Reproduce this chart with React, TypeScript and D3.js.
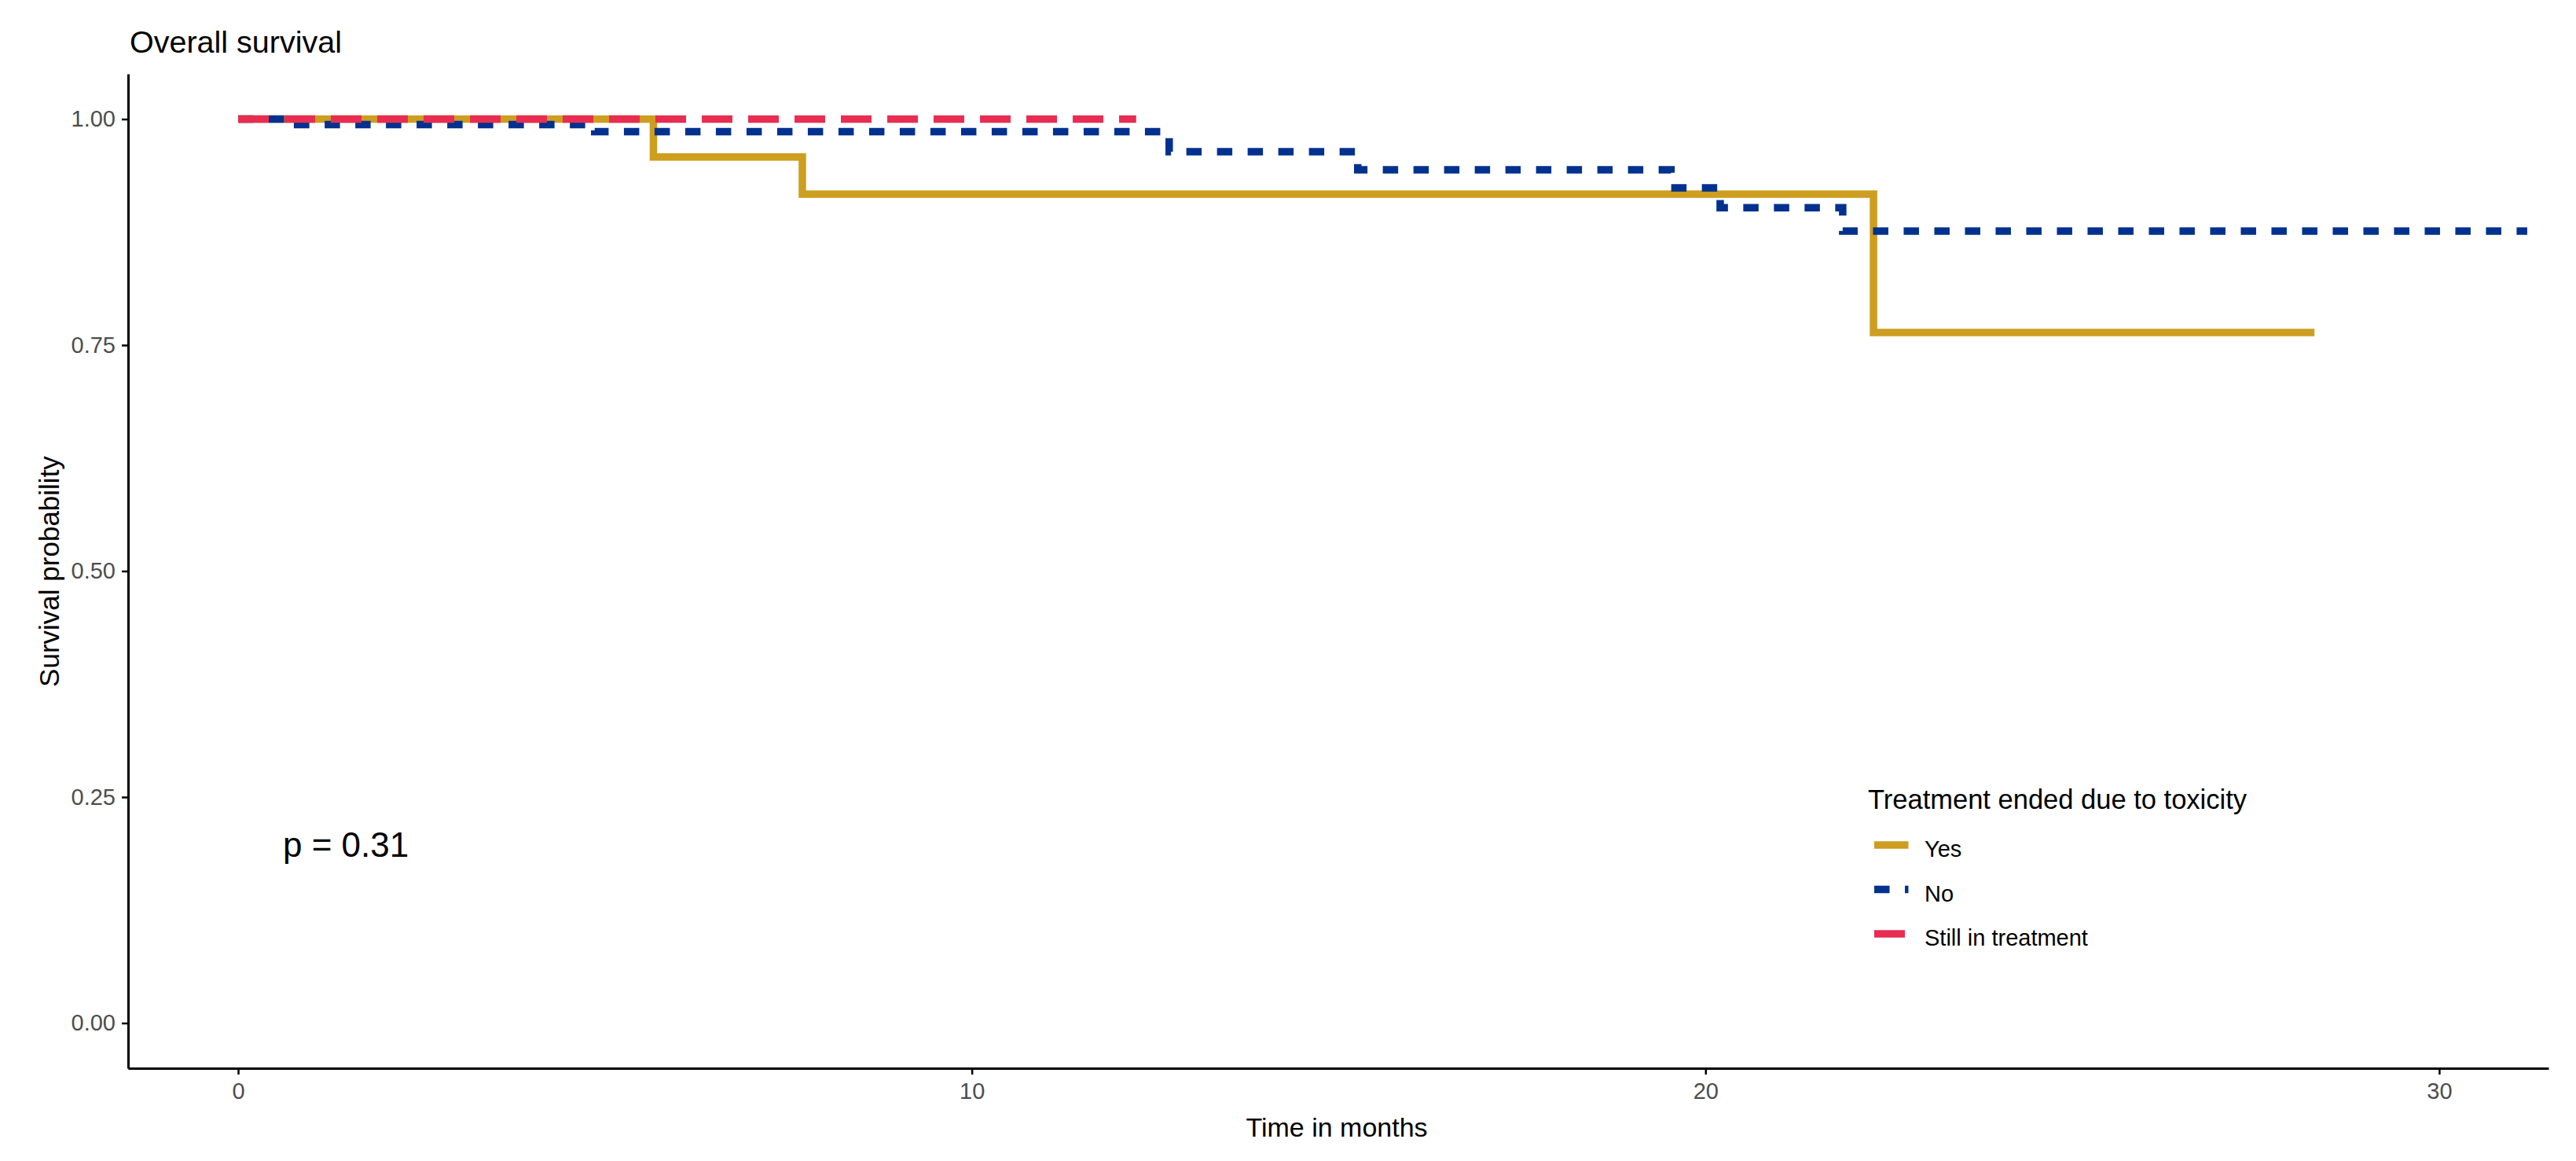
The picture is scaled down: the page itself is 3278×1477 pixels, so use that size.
import React, { useRef, useEffect } from "react";
import * as d3 from "d3";

// Kaplan-Meier steps (time in months, survival)
const groups = ["Yes", "No", "Still in treatment"];
const groupColors = ["#CD9E1F", "#00318F", "#E72D52"];
const groupDash = ["none", "19.5,19.5", "39,20"];

const yesTime = [0, 5.66, 7.69, 22.29, 28.3];
const yesSurv = [1, 0.958, 0.917, 0.764, 0.764];

const noTime = [0, 0.81, 4.86, 12.69, 15.26, 19.53, 20.2, 21.87, 31.2];
const noSurv = [1, 0.994, 0.986, 0.964, 0.944, 0.924, 0.902, 0.876, 0.876];

const stillTime = [0, 12.24];
const stillSurv = [1, 1];

const xTicks = [0, 10, 20, 30];
const yTicks = [0, 0.25, 0.5, 0.75, 1];

const App = () => {
  const svgRef = useRef<SVGSVGElement>(null);

  useEffect(() => {
    document.body.style.margin = "0";

    const width = 3278,
      height = 1477;
    const margin = { top: 94, right: 35, bottom: 118, left: 163 };
    const font = "'Liberation Sans', Arial, Helvetica, sans-serif";

    const svg = d3.select(svgRef.current);
    svg.selectAll("*").remove();
    svg.attr("width", width).attr("height", height).style("background", "#fff");

    // Scales
    const x = d3
      .scaleLinear()
      .domain([-1.5, 31.49])
      .range([margin.left, width - margin.right]);
    const y = d3
      .scaleLinear()
      .domain([-0.05, 1.05])
      .range([height - margin.bottom, margin.top]);

    // Axes
    const yAxis = svg
      .append("g")
      .attr("transform", `translate(${margin.left},0)`)
      .call(
        d3
          .axisLeft(y)
          .tickValues(yTicks)
          .tickFormat(d3.format(".2f"))
          .tickSize(8)
          .tickSizeOuter(0)
          .tickPadding(8)
      )
      .attr("font-size", 29)
      .attr("font-family", font);
    yAxis.select(".domain").attr("stroke", "#000").attr("stroke-width", 3);
    yAxis.selectAll(".tick line").attr("stroke", "#000").attr("stroke-width", 2.5);
    yAxis.selectAll(".tick text").attr("fill", "#4D4D4D");

    const xAxis = svg
      .append("g")
      .attr("transform", `translate(0,${height - margin.bottom})`)
      .call(
        d3
          .axisBottom(x)
          .tickValues(xTicks)
          .tickFormat(d3.format("d"))
          .tickSize(8)
          .tickSizeOuter(0)
          .tickPadding(10)
      )
      .attr("font-size", 29)
      .attr("font-family", font);
    xAxis.select(".domain").attr("stroke", "#000").attr("stroke-width", 3);
    xAxis.selectAll(".tick line").attr("stroke", "#000").attr("stroke-width", 2.5);
    xAxis.selectAll(".tick text").attr("fill", "#4D4D4D");

    // Survival curves
    const series = [
      d3.zip(yesTime, yesSurv),
      d3.zip(noTime, noSurv),
      d3.zip(stillTime, stillSurv),
    ];
    const line = d3
      .line<number[]>()
      .x((d) => x(d[0]))
      .y((d) => y(d[1]))
      .curve(d3.curveStepAfter);

    svg
      .append("g")
      .selectAll("path")
      .data(series)
      .enter()
      .append("path")
      .attr("d", (d) => line(d))
      .attr("fill", "none")
      .attr("stroke", (d, i) => groupColors[i])
      .attr("stroke-width", 9.5)
      .attr("stroke-dasharray", (d, i) => groupDash[i])
      .attr("stroke-linejoin", "miter");

    // Title and axis titles
    svg
      .append("text")
      .attr("x", 165)
      .attr("y", 67)
      .attr("font-family", font)
      .attr("font-size", 39.5)
      .attr("fill", "#000")
      .text("Overall survival");

    svg
      .append("text")
      .attr("x", 1701)
      .attr("y", 1446)
      .attr("text-anchor", "middle")
      .attr("font-family", font)
      .attr("font-size", 34)
      .attr("fill", "#000")
      .text("Time in months");

    svg
      .append("text")
      .attr("transform", "translate(75,727) rotate(-90)")
      .attr("text-anchor", "middle")
      .attr("font-family", font)
      .attr("font-size", 35)
      .attr("fill", "#000")
      .text("Survival probability");

    // p-value
    svg
      .append("text")
      .attr("x", 360)
      .attr("y", 1090)
      .attr("font-family", font)
      .attr("font-size", 44)
      .attr("fill", "#000")
      .text("p = 0.31");

    // Legend
    const legend = svg.append("g").attr("font-family", font);
    legend
      .append("text")
      .attr("x", 2377)
      .attr("y", 1029)
      .attr("font-size", 34.5)
      .attr("fill", "#000")
      .text("Treatment ended due to toxicity");

    const keyY = d3.scalePoint().domain(groups).range([1075, 1188]);
    const items = legend
      .selectAll(".item")
      .data(groups)
      .enter()
      .append("g")
      .attr("class", "item")
      .attr("transform", (d) => `translate(0,${keyY(d)})`);
    items
      .append("line")
      .attr("x1", 2385)
      .attr("x2", 2428.5)
      .attr("stroke", (d, i) => groupColors[i])
      .attr("stroke-width", 9.5)
      .attr("stroke-dasharray", (d, i) => groupDash[i]);
    items
      .append("text")
      .attr("x", 2449)
      .attr("y", 15)
      .attr("font-size", 29)
      .attr("fill", "#000")
      .text((d) => d);
  }, []);

  return <svg ref={svgRef}></svg>;
};

export default App;
